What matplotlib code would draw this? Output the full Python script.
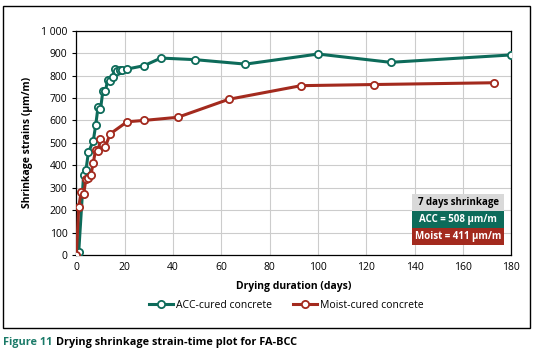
import matplotlib.pyplot as plt
from matplotlib.patches import Rectangle
from matplotlib.ticker import FuncFormatter

plt.rcParams['font.family'] = ['Open Sans', 'DejaVu Sans']

# ACC-cured concrete
acc_days = [0, 1, 3, 4, 5, 7, 8, 9, 10, 11, 12, 13, 14, 15, 16, 17, 18, 19, 21, 28, 35, 49, 70, 100, 130, 180]
acc_strain = [0, 15, 357, 380, 458, 508, 578, 661, 649, 733, 731, 780, 774, 795, 829, 822, 823, 823, 829, 844, 878, 871, 851, 896, 859, 892]

# Moist-cured concrete
moist_days = [0, 1, 2, 3, 4, 5, 6, 7, 8, 9, 10, 11, 12, 14, 21, 28, 42, 63, 93, 123, 173]
moist_strain = [0, 215, 280, 270, 340, 345, 355, 411, 470, 465, 515, 490, 483, 540, 594, 600, 614, 694, 755, 760, 768]

green = '#0d6b5a'
red = '#a32a1e'

fig = plt.figure(figsize=(5.36, 3.57), dpi=100)
ax = fig.add_axes([0.1424, 0.2857, 0.8116, 0.6283])

ax.plot(acc_days, acc_strain, '-o', color=green, lw=2.2, ms=5.2, mfc='white', mec=green, mew=1.3,
        label='ACC-cured concrete', zorder=3)
ax.plot(moist_days, moist_strain, '-o', color=red, lw=2.2, ms=5.2, mfc='white', mec=red, mew=1.3,
        label='Moist-cured concrete', zorder=3)

ax.set_xlim(0, 180)
ax.set_ylim(0, 1000)
ax.set_xticks(range(0, 181, 20))
ax.set_yticks(range(0, 1001, 100))
ax.yaxis.set_major_formatter(FuncFormatter(lambda v, p: f'{int(v):,}'.replace(',', ' ')))
ax.grid(True, color='#cccccc', lw=0.8)
ax.set_axisbelow(True)
for s in ax.spines.values():
    s.set_linewidth(0.9)
ax.tick_params(axis='both', labelsize=7.5, length=3, width=0.8, colors='black')
ax.tick_params(axis='x', length=0, pad=5)

ax.set_xlabel('Drying duration (days)', fontsize=7.5, fontweight='bold', labelpad=6)
ax.set_ylabel('Shrinkage strains (µm/m)', fontsize=7.5, fontweight='bold', labelpad=6)

ax.legend(loc='center', bbox_to_anchor=(286 / 536, 1 - 305 / 357), bbox_transform=fig.transFigure,
          ncol=2, frameon=False, fontsize=7.5, handlelength=2.3, columnspacing=2.0, handletextpad=0.3)

# 7-day shrinkage boxes
boxes = [('7 days shrinkage', '#d9d9d9', 'black'),
         ('ACC = 508 µm/m', green, 'white'),
         ('Moist = 411 µm/m', red, 'white')]
bx0, bw, bh = 412 / 536, 92 / 536, 17 / 357
for i, (txt, fc, tc) in enumerate(boxes):
    y0 = 1 - (194 + 17 * (i + 1)) / 357
    fig.patches.append(Rectangle((bx0, y0), bw, bh, transform=fig.transFigure, fc=fc, ec='none', zorder=5))
    fig.text(bx0 + bw / 2, y0 + bh / 2, txt, ha='center', va='center', fontsize=7, fontweight='bold',
             color=tc, zorder=6)

# outer frame
fig.patches.append(Rectangle((3 / 536, 1 - 328 / 357), 527 / 536, 322 / 357, transform=fig.transFigure,
                             fill=False, ec='black', lw=1.0))

# caption
cap1 = fig.text(3 / 536, 1 - 343 / 357, 'Figure 11', color='#1a7a68', fontsize=7.8, fontweight='bold',
                va='center')
r = fig.canvas.get_renderer()
x_end = cap1.get_window_extent(r).x1
fig.text((x_end + 4) / 536, 1 - 343 / 357, 'Drying shrinkage strain-time plot for FA-BCC', color='black',
         fontsize=7.8, fontweight='bold', va='center')

fig.savefig('out.png', dpi=100)
